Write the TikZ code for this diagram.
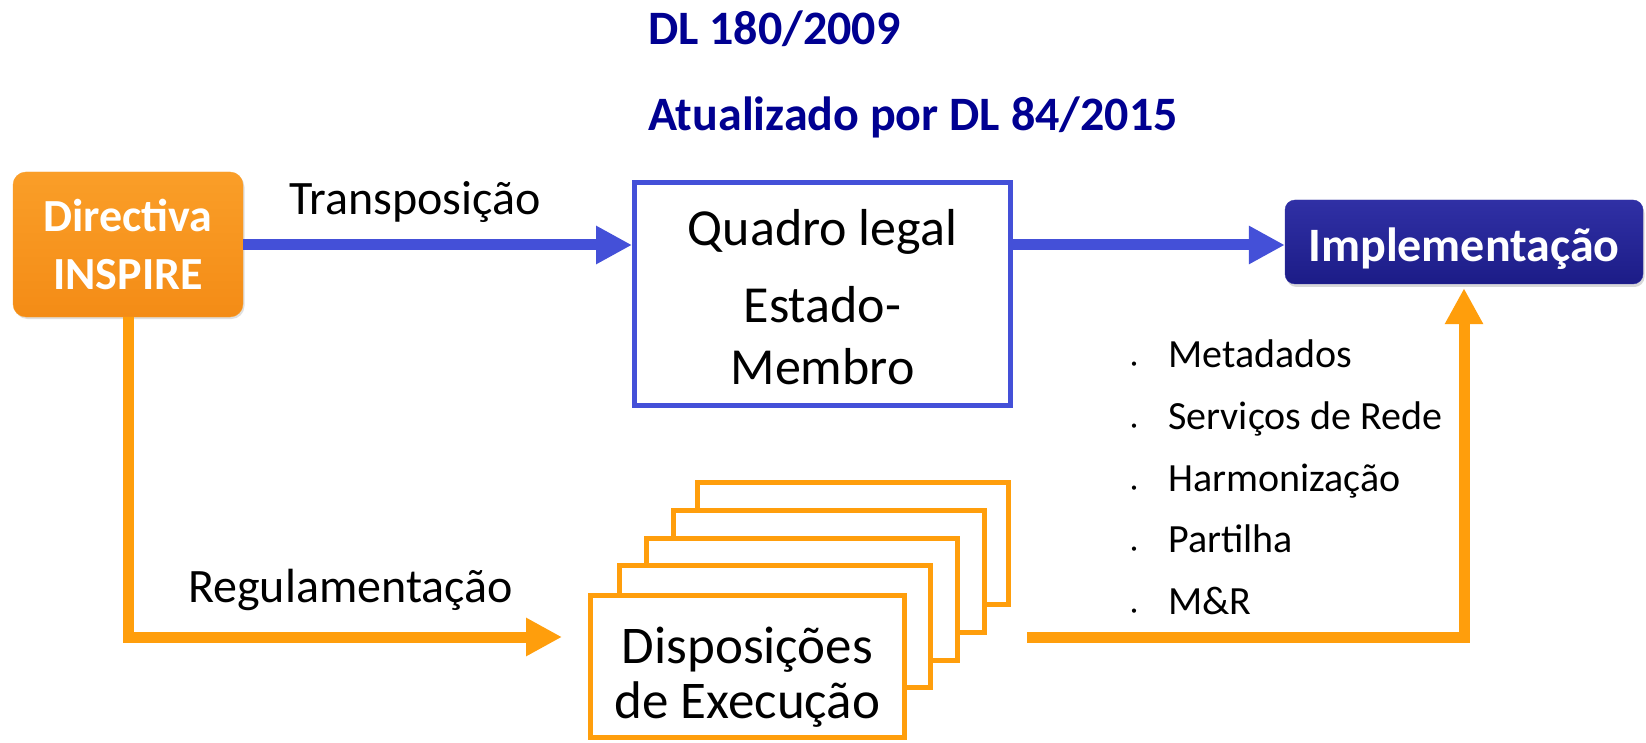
\documentclass[tikz,border=0pt]{standalone}
\usepackage{fontspec}
\setmainfont{Carlito}
\usetikzlibrary{arrows.meta,shadows}
\definecolor{lineblue}{RGB}{68,80,216}
\definecolor{linorange}{RGB}{255,158,12}
\definecolor{titleblue}{RGB}{0,0,145}
\definecolor{dirtop}{RGB}{250,158,40}
\definecolor{dirbot}{RGB}{244,140,22}
\definecolor{impltop}{RGB}{48,48,165}
\definecolor{implbot}{RGB}{28,28,135}
\tikzset{
  bigtxt/.style={font=\fontsize{52}{62}\selectfont},
  lbl/.style={font=\fontsize{48}{58}\selectfont, inner sep=0pt, anchor=base west},
  titletxt/.style={font=\bfseries\fontsize{48}{58}\selectfont, text=titleblue, inner sep=0pt, anchor=base west},
  bluearrow/.style={draw=lineblue, line width=11pt, -{Triangle[length=36pt,width=36pt]}},
  orangearrow/.style={draw=linorange, line width=11pt, -{Triangle[length=36pt,width=36pt]}},
  pagebox/.style={draw=linorange, line width=5pt, fill=white, minimum width=311pt, minimum height=122pt, inner sep=0pt},
}
\begin{document}
\begin{tikzpicture}[x=1pt,y=-1pt]
\useasboundingbox[fill=white] (0,0) rectangle (1646,743);

% titles
\node[titletxt] (t1) at (648,45) {DL 180/2009};
\node[titletxt] (t2) at (648,131) {Atualizado por DL 84/2015};

% Directiva INSPIRE
\node[rounded corners=13pt, top color=dirtop, bottom color=dirbot, draw=dirtop,
      minimum width=230pt, minimum height=145pt, inner sep=0pt, align=center,
      text=white, font=\bfseries\fontsize{46}{58}\selectfont,
      drop shadow={opacity=0.25, shadow xshift=1.5pt, shadow yshift=-2pt}]
  (dir) at (128,244.5) {Directiva\\INSPIRE};

% Quadro legal
\node[draw=lineblue, line width=5pt, fill=white, minimum width=376pt, minimum height=223pt,
      inner sep=0pt, align=center, bigtxt]
  (quadro) at (822.5,294) {\rule{0pt}{43pt}Quadro legal\\[15pt]Estado-\\Membro};

% Implementacao
\node[rounded corners=10pt, top color=impltop, bottom color=implbot, draw=impltop,
      minimum width=358pt, minimum height=84pt, inner sep=0pt,
      text=white, font=\bfseries\fontsize{48}{58}\selectfont,
      text height=45pt, text depth=5pt,
      drop shadow={opacity=0.3, shadow xshift=1.5pt, shadow yshift=-3pt}]
  (impl) at (1464,242) {Implementação};

% Disposicoes stack
\node[pagebox] (disp4) at (853,543.5) {};
\node[pagebox] (disp3) at (829,571.5) {};
\node[pagebox] (disp2) at (801.5,599.5) {};
\node[pagebox] (disp1) at (774.5,626) {};
\node[draw=linorange, line width=5pt, fill=white, minimum width=314pt, minimum height=142pt,
      inner sep=0pt, align=center, font=\fontsize{53}{55}\selectfont]
  (disp) at (747.5,666.5) {\rule{0pt}{57pt}Disposições\\de Execução};

% labels
\node[lbl] (transp) at (289,215) {Transposição};
\node[lbl] (regul) at (188,602) {Regulamentação};

% bullet list
\node[anchor=west, inner sep=0pt, align=left, font=\fontsize{40}{61.75}\selectfont]
  (list) at (1131,477.5) {%
  \makebox[37pt][l]{\fontsize{12}{12}\selectfont •}Metadados\\
  \makebox[37pt][l]{\fontsize{12}{12}\selectfont •}Serviços de Rede\\
  \makebox[37pt][l]{\fontsize{12}{12}\selectfont •}Harmonização\\
  \makebox[37pt][l]{\fontsize{12}{12}\selectfont •}Partilha\\
  \makebox[37pt][l]{\fontsize{12}{12}\selectfont •}M\&R};

% connectors
\coordinate (rin) at (588,637);
\coordinate (rout) at (1027,637);
\draw[bluearrow] (dir.east |- 0,245) -- (quadro.west |- 0,245);
\draw[bluearrow] (quadro.east |- 0,245) -- (impl.west |- 0,245);
\draw[orangearrow, shorten >=26pt] (dir.south) |- (rin);
\draw[orangearrow, shorten >=4pt] (rout) -| (impl.south);
\end{tikzpicture}
\end{document}
